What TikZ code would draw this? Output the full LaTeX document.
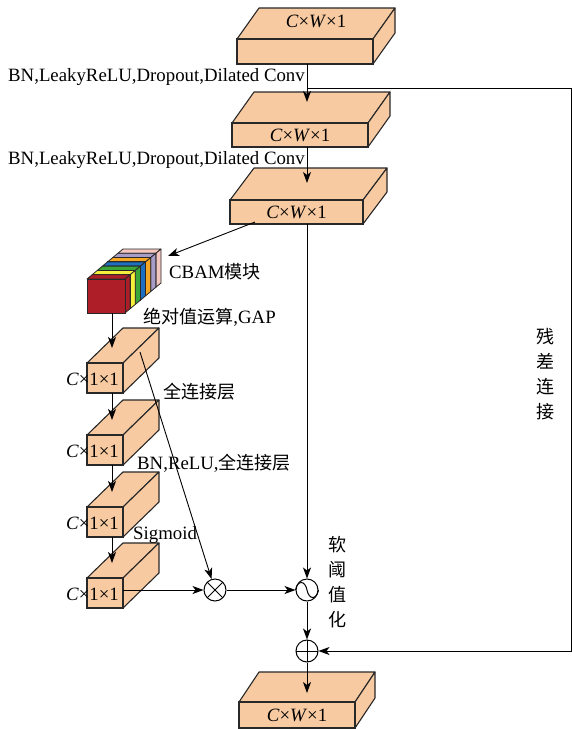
\documentclass[tikz,border=0pt]{standalone}
\usepackage{fontspec}
\setmainfont{Liberation Serif}
\newfontfamily\cjk[Scale=0.96]{Noto Sans CJK SC}
\usetikzlibrary{arrows.meta,calc}
\definecolor{peach}{RGB}{247,202,162}
\definecolor{edgec}{RGB}{40,40,40}
\definecolor{cred}{RGB}{174,30,40}
\definecolor{cyellow}{RGB}{245,240,60}
\definecolor{cgreen}{RGB}{58,166,58}
\definecolor{cblue}{RGB}{30,111,192}
\definecolor{corange}{RGB}{245,166,35}
\definecolor{cpurple}{RGB}{168,156,200}
\definecolor{cpink}{RGB}{244,198,192}
% #1 name, #2 x, #3 y (front top-left), #4 w, #5 h, #6 dx, #7 dy, #8 front text
\newcommand{\mybox}[8]{%
  \coordinate (#1-a) at (#2,#3);
  \coordinate (#1-b) at (#2+#4,#3);
  \coordinate (#1-c) at (#2+#4,#3+#5);
  \draw[boxface] (#1-a) -- (#1-b) -- ++(#6,#7) -- ++(-#4,0) -- cycle;
  \draw[boxface] (#1-b) -- (#1-c) -- ++(#6,#7) -- ++(0,-#5) -- cycle;
  \node[boxfront, minimum width=#4, minimum height=#5, anchor=north west] (#1) at (#1-a) {#8};
}
\begin{document}
\begin{tikzpicture}[x=1pt,y=-1pt, font=\fontsize{18.8}{22}\selectfont,
  boxface/.style={draw=edgec, fill=peach, line width=1.1pt, line join=round},
  boxfront/.style={draw=edgec, fill=peach, line width=1.1pt, inner sep=0pt, outer sep=0pt, rectangle},
  arr/.style={-{Stealth[length=11pt,width=8pt,inset=3pt]}, line width=0.9pt},
  op/.style={circle, draw, line width=1pt, minimum size=22pt, inner sep=0pt},
  lab/.style={inner sep=0pt, anchor=west},
  slab/.style={draw=edgec, line width=0.8pt, line join=round}]
\useasboundingbox (0,0) rectangle (572,729);

% big boxes
\mybox{b1}{237}{39}{136}{25}{22}{-31}{}
\node (b1t) at (316,21) {\textit{C}×\textit{W}×1};
\mybox{b2}{232}{123}{136}{24}{22}{-31}{\textit{C}×\textit{W}×1}
\mybox{b3}{230}{200}{133}{24}{24}{-32}{\textit{C}×\textit{W}×1}
\mybox{b4}{239}{702}{116}{26}{20}{-30}{\textit{C}×\textit{W}×1}

% small boxes
\mybox{sa}{87}{363}{36}{30}{36}{-35}{}
\mybox{sb}{87}{435}{36}{30}{36}{-35}{}
\mybox{sc}{87}{507}{36}{30}{36}{-35}{}
\mybox{sd}{87}{578}{36}{30}{36}{-35}{}
\foreach \s in {sa,sb,sc,sd}
  \node[anchor=east, inner sep=0pt] (\s-l) at ($(\s.east)+(-4,1)$) {\textit{C}×1×1};

% CBAM block
\foreach \i/\c in {6/cpink,5/cpurple,4/corange,3/cblue,2/cgreen,1/cyellow,0/cred}{
  \pgfmathsetmacro{\ox}{\i*36/7}
  \pgfmathsetmacro{\oy}{-\i*30/7}
  \draw[slab, fill=\c] (87+\ox,279+\oy) -- (125+\ox,279+\oy) -- ++(36/7,-30/7) -- ++(-38,0) -- cycle;
  \draw[slab, fill=\c] (125+\ox,279+\oy) -- (125+\ox,313+\oy) -- ++(36/7,-30/7) -- ++(0,-34) -- cycle;
  \draw[slab, fill=\c] (87+\ox,279+\oy) rectangle (125+\ox,313+\oy);
}
\node[draw=edgec, line width=0.8pt, fill=cred, minimum width=38, minimum height=34, inner sep=0pt, anchor=north west] (cbam) at (87,279) {};

% operators
\node[op, path picture={\draw[line width=1pt] (path picture bounding box.north west) -- (path picture bounding box.south east) (path picture bounding box.north east) -- (path picture bounding box.south west);}] (mul) at (215,590) {};
\node[op] (soft) at (307,590) {};
\draw[line width=1pt] (soft.west) .. controls +(2,-10) and +(-2,-10) .. (soft.center) .. controls +(2,10) and +(-2,10) .. (soft.east);
\node[op, path picture={\draw[line width=1pt] (path picture bounding box.north) -- (path picture bounding box.south) (path picture bounding box.west) -- (path picture bounding box.east);}] (plus) at (307,651) {};

% coordinates
\coordinate (t2) at (307,102);
\coordinate (t3) at (307,183);
\coordinate (t4) at (307,693);
\coordinate (r0) at (307,88);
\coordinate (r1) at (571,88);
\coordinate (r2) at (571,651);
\coordinate (cs) at (255,222);
\coordinate (ct) at (168,256);
\coordinate (c0) at (112,313);
\coordinate (ta) at (112,348);
\coordinate (tb) at (112,420);
\coordinate (tc) at (112,492);
\coordinate (td) at (112,563);
\coordinate (sap) at (140,352);

% connectors
\draw[arr] (soft |- b1.south) -- (t2);
\draw[arr] (soft |- b2.south) -- (t3);
\draw[arr] (soft |- b3.south) -- (soft);
\draw[arr] (r0) -- (r1) -- (r2) -- (plus);
\draw[arr] (cs) -- (ct);
\draw[arr] (c0) -- (ta);
\draw[arr] (ta |- sa.south) -- (tb);
\draw[arr] (ta |- sb.south) -- (tc);
\draw[arr] (ta |- sc.south) -- (td);
\draw[arr] (sap) -- (mul);
\draw[arr] (sd.east |- mul) -- (mul);
\draw[arr] (mul) -- (soft);
\draw[arr] (soft) -- (plus);
\draw[arr] (plus) -- (t4);

% labels
\node[lab] (l1) at (8,77) {BN,LeakyReLU,Dropout,Dilated Conv};
\node[lab] (l2) at (8,160) {BN,LeakyReLU,Dropout,Dilated Conv};
\node[lab] (l3) at (169,272) {CBAM{\cjk 模块}};
\node[lab] (l4) at (143,317) {{\cjk 绝对值运算},GAP};
\node[lab] (l5) at (163,392) {\cjk 全连接层};
\node[lab] (l6) at (137,463) {BN,ReLU,{\cjk 全连接层}};
\node[lab] (l7) at (133,535) {Sigmoid};
\node[align=center, inner sep=0pt, font=\cjk\fontsize{18.8}{25}\selectfont] (l8) at (338,582) {软\\阈\\值\\化};
\node[align=center, inner sep=0pt, font=\cjk\fontsize{18.8}{25}\selectfont] (l9) at (546,374) {残\\差\\连\\接};
\end{tikzpicture}
\end{document}
